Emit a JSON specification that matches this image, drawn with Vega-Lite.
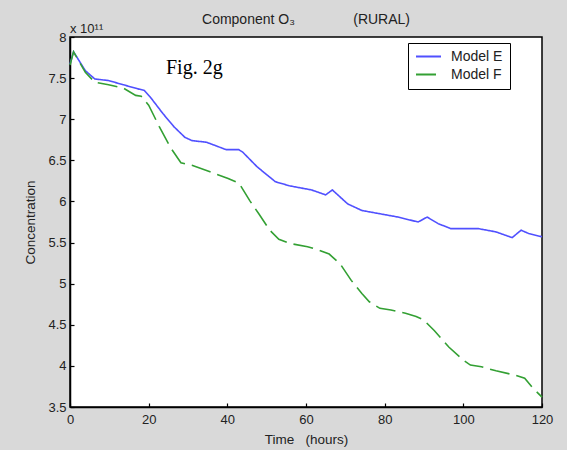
{
  "$schema": "https://vega.github.io/schema/vega-lite/v6.json",
  "width": 472,
  "height": 370,
  "autosize": {"type": "none"},
  "padding": {"left": 70, "top": 37, "right": 25, "bottom": 43},
  "background": "#d9d9d9",
  "title": {"text": "Component O₃\u00a0\u00a0\u00a0\u00a0\u00a0\u00a0\u00a0\u00a0\u00a0\u00a0\u00a0\u00a0\u00a0\u00a0\u00a0(RURAL)", "fontSize": 14, "font": "Liberation Sans", "fontWeight": "normal", "color": "#222", "offset": -4},
  "config": {
    "view": {"stroke": "#000", "strokeWidth": 1.5, "fill": "white"},
    "axis": {"domainColor": "#000", "domainWidth": 1.5, "tickColor": "#000", "tickWidth": 1.2, "tickSize": -4, "labelColor": "#222", "labelFont": "Liberation Sans", "labelFontSize": 13, "titleFont": "Liberation Sans", "titleFontSize": 13.5, "titleFontWeight": "normal", "titleColor": "#222", "grid": false},
    "legend": {"labelFont": "Liberation Sans", "labelFontSize": 14, "labelColor": "#222"}
  },
  "data": {"values": [
    {"t": 0, "v": 7.67, "model": "Model E"},
    {"t": 0.9, "v": 7.82, "model": "Model E"},
    {"t": 3.9, "v": 7.59, "model": "Model E"},
    {"t": 6.3, "v": 7.49, "model": "Model E"},
    {"t": 9.8, "v": 7.47, "model": "Model E"},
    {"t": 13.5, "v": 7.42, "model": "Model E"},
    {"t": 17.2, "v": 7.37, "model": "Model E"},
    {"t": 18.9, "v": 7.35, "model": "Model E"},
    {"t": 20.4, "v": 7.27, "model": "Model E"},
    {"t": 23.6, "v": 7.07, "model": "Model E"},
    {"t": 26.4, "v": 6.91, "model": "Model E"},
    {"t": 29.2, "v": 6.78, "model": "Model E"},
    {"t": 31, "v": 6.74, "model": "Model E"},
    {"t": 34.7, "v": 6.72, "model": "Model E"},
    {"t": 39.7, "v": 6.63, "model": "Model E"},
    {"t": 42.9, "v": 6.63, "model": "Model E"},
    {"t": 43.9, "v": 6.6, "model": "Model E"},
    {"t": 47.6, "v": 6.42, "model": "Model E"},
    {"t": 52.2, "v": 6.24, "model": "Model E"},
    {"t": 55.8, "v": 6.19, "model": "Model E"},
    {"t": 61.4, "v": 6.14, "model": "Model E"},
    {"t": 65, "v": 6.08, "model": "Model E"},
    {"t": 66.7, "v": 6.14, "model": "Model E"},
    {"t": 70.6, "v": 5.97, "model": "Model E"},
    {"t": 74.2, "v": 5.89, "model": "Model E"},
    {"t": 78.8, "v": 5.85, "model": "Model E"},
    {"t": 83.4, "v": 5.81, "model": "Model E"},
    {"t": 88.5, "v": 5.75, "model": "Model E"},
    {"t": 90.8, "v": 5.81, "model": "Model E"},
    {"t": 93.6, "v": 5.73, "model": "Model E"},
    {"t": 96.8, "v": 5.67, "model": "Model E"},
    {"t": 103.7, "v": 5.67, "model": "Model E"},
    {"t": 108.3, "v": 5.63, "model": "Model E"},
    {"t": 112.4, "v": 5.56, "model": "Model E"},
    {"t": 114.7, "v": 5.65, "model": "Model E"},
    {"t": 116.6, "v": 5.61, "model": "Model E"},
    {"t": 120, "v": 5.57, "model": "Model E"},
    {"t": 0, "v": 7.66, "model": "Model F"},
    {"t": 0.9, "v": 7.82, "model": "Model F"},
    {"t": 3.9, "v": 7.57, "model": "Model F"},
    {"t": 6.3, "v": 7.45, "model": "Model F"},
    {"t": 9.8, "v": 7.42, "model": "Model F"},
    {"t": 13.5, "v": 7.38, "model": "Model F"},
    {"t": 16.7, "v": 7.29, "model": "Model F"},
    {"t": 18.1, "v": 7.28, "model": "Model F"},
    {"t": 20, "v": 7.17, "model": "Model F"},
    {"t": 22.7, "v": 6.91, "model": "Model F"},
    {"t": 25.5, "v": 6.66, "model": "Model F"},
    {"t": 28.2, "v": 6.47, "model": "Model F"},
    {"t": 31, "v": 6.44, "model": "Model F"},
    {"t": 35.6, "v": 6.36, "model": "Model F"},
    {"t": 40.2, "v": 6.28, "model": "Model F"},
    {"t": 43, "v": 6.22, "model": "Model F"},
    {"t": 45.7, "v": 6.01, "model": "Model F"},
    {"t": 48, "v": 5.85, "model": "Model F"},
    {"t": 50.8, "v": 5.65, "model": "Model F"},
    {"t": 53.1, "v": 5.54, "model": "Model F"},
    {"t": 55.8, "v": 5.49, "model": "Model F"},
    {"t": 60.4, "v": 5.45, "model": "Model F"},
    {"t": 63.2, "v": 5.41, "model": "Model F"},
    {"t": 65.9, "v": 5.36, "model": "Model F"},
    {"t": 68.7, "v": 5.24, "model": "Model F"},
    {"t": 71.5, "v": 5.04, "model": "Model F"},
    {"t": 74.2, "v": 4.88, "model": "Model F"},
    {"t": 76.1, "v": 4.78, "model": "Model F"},
    {"t": 78.8, "v": 4.7, "model": "Model F"},
    {"t": 81.6, "v": 4.68, "model": "Model F"},
    {"t": 85.3, "v": 4.64, "model": "Model F"},
    {"t": 88, "v": 4.6, "model": "Model F"},
    {"t": 89.9, "v": 4.56, "model": "Model F"},
    {"t": 92.6, "v": 4.43, "model": "Model F"},
    {"t": 96.3, "v": 4.23, "model": "Model F"},
    {"t": 100, "v": 4.07, "model": "Model F"},
    {"t": 101.8, "v": 4.01, "model": "Model F"},
    {"t": 104.6, "v": 3.99, "model": "Model F"},
    {"t": 108.3, "v": 3.94, "model": "Model F"},
    {"t": 112.9, "v": 3.89, "model": "Model F"},
    {"t": 115.6, "v": 3.85, "model": "Model F"},
    {"t": 117.5, "v": 3.74, "model": "Model F"},
    {"t": 120, "v": 3.62, "model": "Model F"}
  ]},
  "layer": [
    {
      "mark": {"type": "line", "strokeWidth": 1.6},
      "encoding": {
        "x": {"field": "t", "type": "quantitative", "scale": {"domain": [0, 120], "nice": false, "zero": false},
              "axis": {"values": [0, 20, 40, 60, 80, 100, 120], "title": "Time\u00a0\u00a0\u00a0(hours)", "labelPadding": 10, "titlePadding": 6, "labelFlush": false}},
        "y": {"field": "v", "type": "quantitative", "scale": {"domain": [3.5, 8], "nice": false, "zero": false},
              "axis": {"values": [3.5, 4, 4.5, 5, 5.5, 6, 6.5, 7, 7.5, 8], "format": ".1~f", "title": "Concentration", "labelPadding": 8, "titlePadding": 10, "labelFlush": false}},
        "color": {"field": "model", "type": "nominal", "scale": {"domain": ["Model E", "Model F"], "range": ["#5050ff", "#33a033"]},
                  "legend": {"orient": "none", "legendX": 338, "legendY": 6, "title": null, "fillColor": "white", "strokeColor": "#000", "padding": 7, "symbolType": "stroke", "symbolSize": 625, "symbolStrokeWidth": 2, "clipHeight": 13, "rowPadding": 3, "labelOffset": 9, "labelExpr": "datum.label + '  '"}},
        "strokeDash": {"field": "model", "type": "nominal", "scale": {"domain": ["Model E", "Model F"], "range": [[1, 0], [20, 7]]}, "legend": null}
      }
    },
    {
      "data": {"values": [{}]},
      "mark": {"type": "text", "font": "Liberation Serif", "fontSize": 20, "align": "left", "baseline": "middle", "color": "#000"},
      "encoding": {"x": {"datum": 24.4, "type": "quantitative"}, "y": {"datum": 7.62, "type": "quantitative"}, "text": {"value": "Fig. 2g"}}
    },
    {
      "data": {"values": [{}]},
      "mark": {"type": "text", "font": "Liberation Sans", "fontSize": 13, "align": "left", "baseline": "middle", "color": "#222"},
      "encoding": {"x": {"datum": 0, "type": "quantitative"}, "y": {"datum": 8.1, "type": "quantitative"}, "text": {"value": "x 10¹¹"}}
    }
  ]
}
